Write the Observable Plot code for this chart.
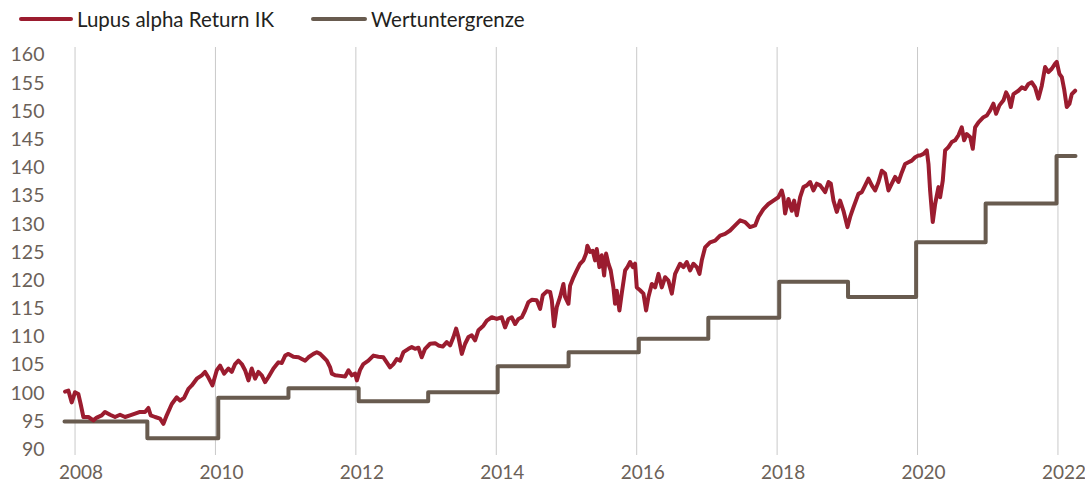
<!DOCTYPE html>
<html>
<head>
<meta charset="utf-8">
<script src="https://cdn.jsdelivr.net/npm/d3@7"></script>
<script src="https://cdn.jsdelivr.net/npm/@observablehq/plot@0.6"></script>
<style>
  html, body { margin: 0; padding: 0; background: #ffffff; }
  #legend { position: relative; width: 1085px; height: 40px; font-family: Lato, "Open Sans", sans-serif; font-size: 20.5px; color: #231f20; }
  #legend .sw { position: absolute; top: 17px; height: 4px; border-radius: 2px; }
  #legend .lb { position: absolute; top: 6px; line-height: 26px; white-space: nowrap; }
</style>
</head>
<body>
<div id="legend"></div>
<div id="chart"></div>
<script>
// ---- data ----
const seriesNames = ["Lupus alpha Return IK", "Wertuntergrenze"];
const seriesColors = ["#9b1c2f", "#685b4f"];

const xTickYears = [2008, 2010, 2012, 2014, 2016, 2018, 2020, 2022];
const yTickValues = [90, 95, 100, 105, 110, 115, 120, 125, 130, 135, 140, 145, 150, 155, 160];

// Wertuntergrenze (floor) – step series
const floorYears  = [2007.85, 2009.03, 2010.04, 2011.04, 2012.04, 2013.03, 2014.02, 2015.03, 2016.03, 2017.02, 2018.03, 2019.01, 2019.98, 2020.97, 2021.98, 2022.25];
const floorValues = [95.0,    92.05,   99.2,    100.9,   98.6,    100.2,   104.8,   107.3,   109.7,   113.4,   119.8,   117.1,   126.8,   133.7,   142.1,   142.1];

// Lupus alpha Return IK – fund price
const fundYears = [
  2007.858, 2007.905, 2007.953, 2008.000, 2008.047, 2008.080, 2008.119, 2008.190, 2008.261, 2008.309,
  2008.380, 2008.427, 2008.499, 2008.570, 2008.641, 2008.712, 2008.783, 2008.855, 2008.926, 2008.997,
  2009.045, 2009.078, 2009.140, 2009.211, 2009.259, 2009.306, 2009.378, 2009.449, 2009.496, 2009.553,
  2009.615, 2009.663, 2009.734, 2009.805, 2009.852, 2009.900, 2009.957, 2010.019, 2010.066, 2010.123,
  2010.185, 2010.232, 2010.280, 2010.327, 2010.375, 2010.422, 2010.470, 2010.517, 2010.565, 2010.612,
  2010.660, 2010.707, 2010.755, 2010.826, 2010.897, 2010.945, 2010.993, 2011.040, 2011.111, 2011.183,
  2011.230, 2011.278, 2011.325, 2011.396, 2011.444, 2011.491, 2011.539, 2011.586, 2011.634, 2011.658,
  2011.705, 2011.776, 2011.847, 2011.895, 2011.943, 2011.990, 2012.014, 2012.061,
  2012.107, 2012.178, 2012.250, 2012.321, 2012.392, 2012.440, 2012.487, 2012.535, 2012.582, 2012.630,
  2012.677, 2012.749, 2012.796, 2012.843, 2012.891, 2012.938, 2012.986, 2013.057, 2013.128, 2013.176,
  2013.237, 2013.294, 2013.342, 2013.390, 2013.428, 2013.461, 2013.509, 2013.556, 2013.604, 2013.651,
  2013.698, 2013.746, 2013.817, 2013.865, 2013.936, 2014.007, 2014.078, 2014.125, 2014.173, 2014.220,
  2014.268, 2014.316, 2014.363, 2014.410, 2014.458, 2014.505, 2014.577, 2014.624, 2014.662, 2014.719,
  2014.767, 2014.791, 2014.823, 2014.861, 2014.909, 2014.956, 2014.980, 2015.028, 2015.051, 2015.099,
  2015.146, 2015.194, 2015.241, 2015.279, 2015.298, 2015.336, 2015.374, 2015.407, 2015.431, 2015.469,
  2015.502, 2015.536, 2015.564, 2015.597, 2015.630, 2015.668, 2015.692, 2015.716, 2015.754, 2015.787,
  2015.835, 2015.868, 2015.906, 2015.944, 2015.977, 2016.001,
  2016.048, 2016.096, 2016.134, 2016.167, 2016.215, 2016.262, 2016.310, 2016.357, 2016.405, 2016.452,
  2016.500, 2016.547, 2016.618, 2016.666, 2016.713, 2016.761, 2016.808, 2016.856, 2016.894, 2016.927,
  2016.974, 2017.045, 2017.117, 2017.188, 2017.259, 2017.330, 2017.402, 2017.473, 2017.544, 2017.615,
  2017.687, 2017.734, 2017.805, 2017.876, 2017.947, 2018.018, 2018.066, 2018.090, 2018.114, 2018.161,
  2018.209, 2018.242, 2018.280, 2018.328, 2018.375, 2018.423, 2018.470, 2018.518, 2018.565, 2018.613,
  2018.684, 2018.732, 2018.765, 2018.803, 2018.850, 2018.897, 2018.945, 2019.002, 2019.040, 2019.087,
  2019.158, 2019.206, 2019.254, 2019.301, 2019.349, 2019.396, 2019.444, 2019.491, 2019.538, 2019.586,
  2019.633, 2019.681, 2019.728, 2019.776, 2019.823, 2019.871, 2019.918, 2019.966, 2020.013,
  2020.037, 2020.085, 2020.132, 2020.156, 2020.179, 2020.203, 2020.217, 2020.251, 2020.298, 2020.322,
  2020.360, 2020.393, 2020.440, 2020.488, 2020.535, 2020.583, 2020.630, 2020.664, 2020.701, 2020.749,
  2020.787, 2020.820, 2020.868, 2020.939, 2020.987, 2021.034, 2021.081, 2021.119, 2021.167, 2021.224,
  2021.262, 2021.295, 2021.328, 2021.366, 2021.437, 2021.485, 2021.532, 2021.580, 2021.627, 2021.675,
  2021.722, 2021.770, 2021.817, 2021.865, 2021.912, 2021.960, 2021.983, 2022.021, 2022.055, 2022.088,
  2022.126, 2022.164, 2022.197, 2022.245
];
const fundValues = [
  100.3, 100.5, 98.4, 100.2, 99.9, 98.1, 95.8, 95.8, 95.2, 95.7,
  96.1, 96.7, 96.2, 95.8, 96.2, 95.8, 96.1, 96.4, 96.7, 96.7,
  97.4, 96.1, 95.8, 95.5, 94.6, 96.1, 98.1, 99.3, 98.7, 99.2,
  100.8, 101.4, 102.6, 103.2, 103.8, 102.8, 101.4, 104.1, 104.9, 103.5,
  104.4, 103.8, 105.2, 105.8, 105.2, 104.1, 102.3, 104.4, 102.6, 103.8,
  103.2, 102.0, 102.9, 104.4, 105.5, 105.4, 106.7, 107.0, 106.5, 106.4,
  106.1, 105.8, 106.4, 107.0, 107.3, 107.0, 106.4, 105.8, 104.6, 103.5,
  103.2, 103.1, 103.0, 104.1, 103.2, 103.5, 102.3, 104.2,
  105.2, 105.8, 106.7, 106.5, 106.4, 105.5, 104.6, 105.2, 106.1, 105.8,
  107.3, 107.9, 108.2, 107.9, 108.1, 106.4, 107.9, 108.8, 108.9, 108.5,
  108.3, 109.1, 108.5, 110.0, 111.5, 110.0, 107.0, 108.8, 110.0, 110.3,
  109.4, 111.2, 112.0, 112.9, 113.5, 113.2, 113.5, 111.7, 113.2, 113.5,
  112.3, 113.2, 113.5, 114.7, 116.2, 116.6, 116.5, 115.0, 117.4, 118.1,
  118.0, 116.5, 111.9, 115.3, 117.1, 119.4, 117.1, 115.9, 119.1, 120.6,
  121.8, 123.0, 123.6, 124.8, 126.2, 125.1, 125.3, 123.6, 125.6, 122.4,
  124.5, 120.9, 124.8, 123.0, 121.8, 118.8, 115.9, 118.2, 114.7, 117.7,
  121.8, 122.4, 123.3, 122.4, 123.0, 118.8,
  118.3, 117.7, 114.7, 117.1, 119.4, 118.8, 121.2, 118.8, 120.6, 120.0,
  117.7, 121.2, 123.0, 122.4, 123.3, 121.8, 123.0, 122.4, 121.2, 123.6,
  125.9, 126.8, 127.1, 128.0, 128.3, 128.9, 129.8, 130.7, 130.4, 129.5,
  129.8, 131.3, 132.7, 133.6, 134.2, 134.8, 136.0, 134.8, 131.9, 134.5,
  132.4, 134.2, 131.6, 134.8, 136.6, 136.9, 137.5, 136.0, 137.2, 136.9,
  135.7, 137.5, 137.2, 134.2, 132.2, 134.2, 132.4, 129.5, 131.3, 133.0,
  135.4, 135.7, 136.9, 138.1, 136.9, 136.0, 137.5, 139.5, 139.0, 136.0,
  137.2, 138.4, 137.5, 139.2, 140.7, 141.0, 141.3, 141.9, 142.2,
  142.2, 142.5, 143.1, 140.7, 136.0, 132.4, 130.4, 133.6, 136.6, 134.8,
  137.8, 143.1, 143.7, 144.6, 144.9, 145.8, 147.2, 144.9, 146.0, 145.5,
  143.4, 147.2, 148.1, 149.0, 149.3, 150.2, 151.4, 149.6, 151.1, 152.0,
  153.4, 152.6, 150.8, 153.1, 153.7, 154.3, 154.0, 154.9, 155.2, 154.3,
  152.3, 154.6, 157.9, 157.0, 157.6, 158.5, 158.8, 156.7, 156.1, 154.0,
  150.8, 151.4, 153.1, 153.7
];

// ---- build tables ----
const fund = fundYears.map((t, i) => ({t, v: fundValues[i]}));
const floor = floorYears.map((t, i) => ({t, v: floorValues[i]}));

// ---- legend ----
const legend = document.getElementById("legend");
const legendPos = [{sw: 19, lb: 77}, {sw: 311, lb: 371}];
seriesNames.forEach((name, i) => {
  const sw = document.createElement("div");
  sw.className = "sw";
  sw.style.left = legendPos[i].sw + "px";
  sw.style.width = (legendPos[i].lb - legendPos[i].sw - 4) + "px";
  sw.style.background = seriesColors[i];
  legend.appendChild(sw);
  const lb = document.createElement("div");
  lb.className = "lb";
  lb.style.left = legendPos[i].lb + "px";
  lb.textContent = name;
  legend.appendChild(lb);
});

// ---- chart ----
const chart = Plot.plot({
  width: 1085,
  height: 443,
  marginLeft: 64,
  marginRight: 10,
  marginTop: 7,
  marginBottom: 28,
  style: {fontFamily: "Lato, 'Open Sans', sans-serif", fontSize: "19px", color: "#6b6158", background: "#ffffff", overflow: "visible"},
  x: {domain: [2007.85, 2022.25], label: null},
  y: {domain: [88.97, 161.37], label: null},
  marks: [
    Plot.gridX(xTickYears, {stroke: "#c9c9c9", strokeOpacity: 1, strokeWidth: 1}),
    Plot.line(floor, {x: "t", y: "v", curve: "step-after", stroke: seriesColors[1], strokeWidth: 4}),
    Plot.line(fund, {x: "t", y: "v", stroke: seriesColors[0], strokeWidth: 4, strokeLinejoin: "round"}),
    Plot.axisY({ticks: yTickValues, tickSize: 0, tickPadding: 20, fontSize: 19.5, label: null}),
    Plot.axisX({ticks: xTickYears, tickSize: 0, tickPadding: 10, dx: 6, fontSize: 19, label: null, tickFormat: d => String(d)})
  ]
});
document.getElementById("chart").appendChild(chart);
</script>
</body>
</html>
